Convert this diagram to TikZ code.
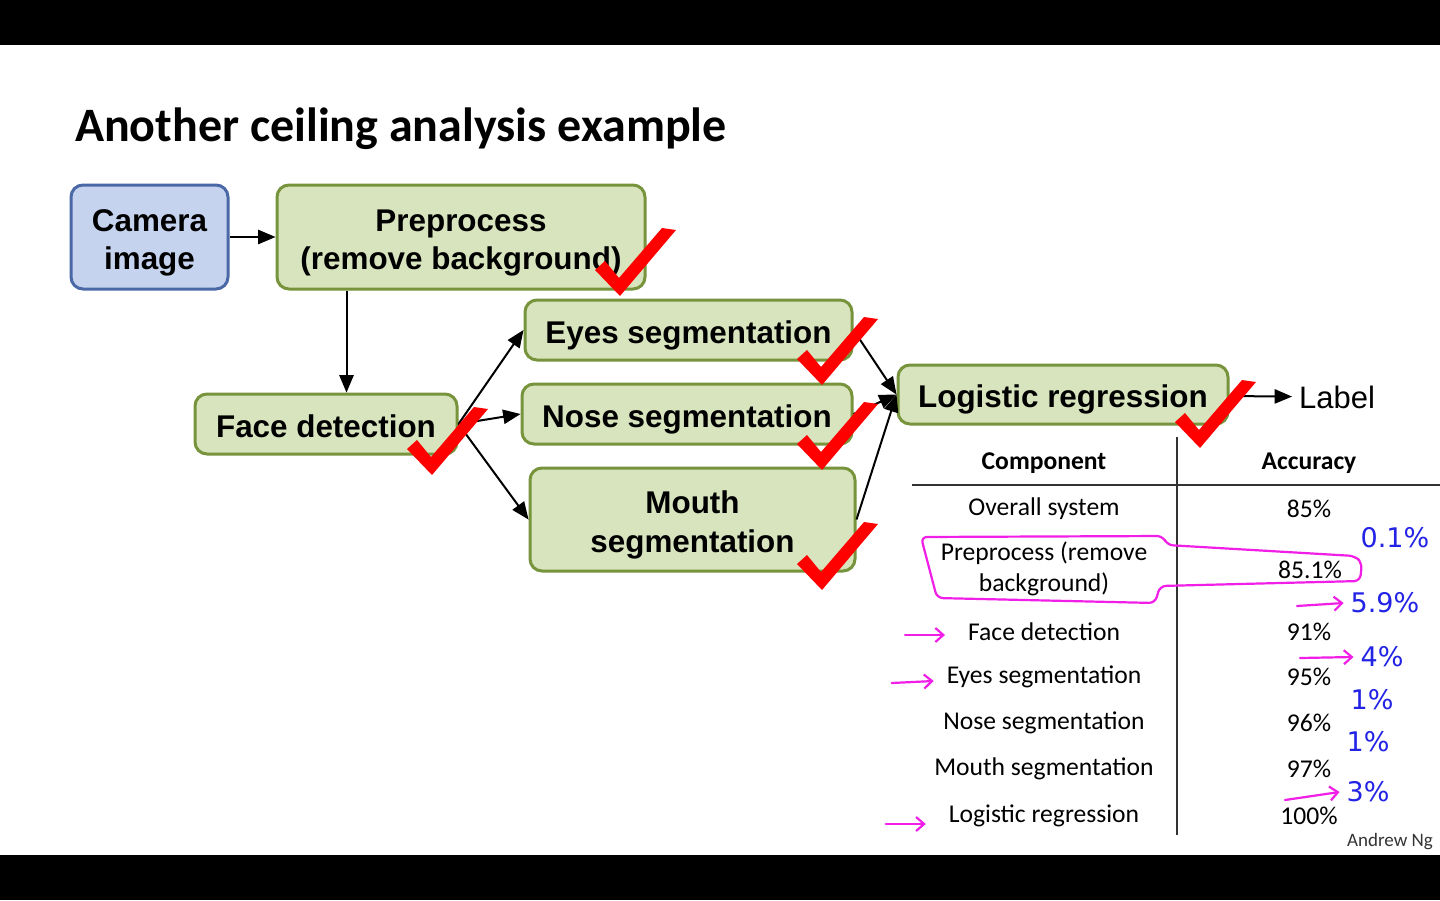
\documentclass[tikz,border=0pt]{standalone}
\usepackage{fontspec}
\setmainfont{Liberation Sans}
\newfontfamily\calibri{Carlito}
\newfontfamily\hand{DejaVu Sans}
\usetikzlibrary{arrows, arrows.meta}

\definecolor{stagefill}{HTML}{D7E4BD}
\definecolor{stageline}{HTML}{77933C}
\definecolor{camfill}{HTML}{C6D3EF}
\definecolor{camline}{HTML}{4A68A6}
\definecolor{inkblue}{HTML}{2323E6}
\definecolor{inkpink}{HTML}{F01EE6}

\newcommand\toplift{\rule{0pt}{17pt}}

\tikzset{
  checkmk/.pic={\fill[red] (0,0) -- (-25,-26) -- (-15,-35) -- (-1,-18) -- (42,-68) -- (56,-66) -- cycle;}
}

\begin{document}
\begin{tikzpicture}[x=0.5pt,y=-0.5pt,>=triangle 45,
  stage/.style={draw=stageline, fill=stagefill, line width=1.5pt, rounded corners=6pt,
    font=\bfseries\fontsize{15.7}{19}\selectfont, align=center, inner sep=0pt},
  oneline/.style={execute at begin node={\rule[-3.3pt]{0pt}{19.8pt}}},
  cell/.style={font=\calibri\fontsize{12.8}{15.5}\selectfont, align=center},
  note/.style={font=\hand\fontsize{13.5}{15}\selectfont, text=inkblue},
  pen/.style={draw=inkpink, line width=1.1pt, line cap=round, line join=round},
  penarrow/.style={pen, -{Straight Barb[length=4pt,width=7pt]}}]
  \useasboundingbox (0,0) rectangle (1440,900);
  \fill[white] (0,0) rectangle (1440,900);
  \fill[black] (0,0) rectangle (1440,45);
  \fill[black] (0,855) rectangle (1440,900);

  \node[anchor=west, font=\calibri\bfseries\fontsize{24}{28}\selectfont] (title) at (68,129) {Another ceiling analysis example};

  % pipeline
  \node[stage, draw=camline, fill=camfill, minimum width=78.5pt, minimum height=52pt] (camera) at (149.5,237) {\toplift Camera\\image};
  \node[stage, minimum width=184pt, minimum height=52pt] (preproc) at (461,237) {\toplift Preprocess\\(remove background)};
  \node[stage, oneline, minimum width=131pt, minimum height=30pt] (face) at (326,424) {Face detection};
  \node[stage, oneline, minimum width=163.5pt, minimum height=30pt] (eyes) at (688.5,330) {Eyes segmentation};
  \node[stage, oneline, minimum width=165pt, minimum height=30pt] (nose) at (687,414) {Nose segmentation};
  \node[stage, minimum width=162.5pt, minimum height=51.5pt, font=\bfseries\fontsize{15.7}{19.5}\selectfont] (mouth) at (692.5,519.5) {\toplift Mouth\\segmentation};
  \node[stage, oneline, minimum width=165pt, minimum height=29.5pt] (logreg) at (1063,394.5) {Logistic regression};
  \node[font=\fontsize{15.5}{18}\selectfont] (label) at (1337,397) {Label};

  \draw[->, line width=1pt] (camera) -- (preproc);
  \draw[->, line width=1pt] ([xshift=35.5pt]preproc.south west) -- ([xshift=35.5pt]preproc.south west |- face.north);
  \draw[->, line width=1pt] (face.east) -- (eyes.west);
  \draw[->, line width=1pt] (face.east) -- (nose.west);
  \draw[->, line width=1pt] (face.east) -- (mouth.west);
  \draw[->, line width=1pt] (eyes.east) -- (logreg.west);
  \draw[->, line width=1pt] (nose.east) -- (logreg.west);
  \draw[->, line width=1pt] (mouth.east) -- (logreg.west);
  \draw[->, line width=1pt] (logreg) -- (label);

  % ticks
  \pic at (620,296) {checkmk};
  \pic at (432,475) {checkmk};
  \pic at (822,385) {checkmk};
  \pic at (822,470) {checkmk};
  \pic at (822,590) {checkmk};
  \pic at (1200,448) {checkmk};

  % table
  \node[cell, font=\calibri\bfseries\fontsize{12.8}{15.5}\selectfont] (comp) at (1044,463) {Component};
  \node[cell, font=\calibri\bfseries\fontsize{12.8}{15.5}\selectfont] (acc) at (1309,463) {Accuracy};
  \draw[black!80, line width=1pt] (912,485) -- (1440,485);
  \draw[black!80, line width=1pt] (1177,437) -- (1177,835);
  \foreach \y/\name/\comp/\acc in {509/all/Overall system/85\%, 632/face/Face detection/91\%,
      677/eyes/Eyes segmentation/95\%, 723/nose/Nose segmentation/96\%,
      769/mouth/Mouth segmentation/97\%, 816/lr/Logistic regression/100\%}{
    \node[cell] (c-\name) at (1044,\y) {\comp};
    \node[cell] (a-\name) at (1309,\y) {\acc};
  }
  \node[cell] (c-pre) at (1044,569) {Preprocess (remove\\background)};
  \node[cell] (a-pre) at (1310,570) {85.1\%};
  \node[font=\calibri\fontsize{9.5}{11}\selectfont, text=black!80] (author) at (1390,842) {Andrew Ng};

  % pen notes
  \draw[pen, rounded corners=3pt] (921,537) -- (1163,536) -- (1167,545) -- (1355,556) -- (1362,563)
    -- (1360,581) -- (1160,586) -- (1155,603) -- (937,598) -- cycle;
  \node[note] (n01) at (1395,538) {0.1\%};
  \node[note] (n59) at (1385,603) {5.9\%};
  \node[note] (n4) at (1382,657) {4\%};
  \node[note] (n1a) at (1372,700) {1\%};
  \node[note] (n1b) at (1368,742) {1\%};
  \node[note] (n3) at (1368,792) {3\%};
  \coordinate (p59) at (1297,606);
  \coordinate (p4) at (1300,658);
  \coordinate (p3) at (1285,800);
  \draw[penarrow] (p59) -- (n59.west);
  \draw[penarrow] (p4) -- (n4.west);
  \draw[penarrow] (p3) -- (n3.west);
  \draw[penarrow] ([xshift=-28pt,yshift=-1.5pt]c-face.west) -- ([xshift=-8pt,yshift=-1.5pt]c-face.west);
  \draw[penarrow] ([xshift=-24pt,yshift=-3pt]c-eyes.west) -- ([xshift=-3pt,yshift=-2pt]c-eyes.west);
  \draw[penarrow] ([xshift=-28pt,yshift=-4pt]c-lr.west) -- ([xshift=-8pt,yshift=-4pt]c-lr.west);
\end{tikzpicture}
\end{document}
